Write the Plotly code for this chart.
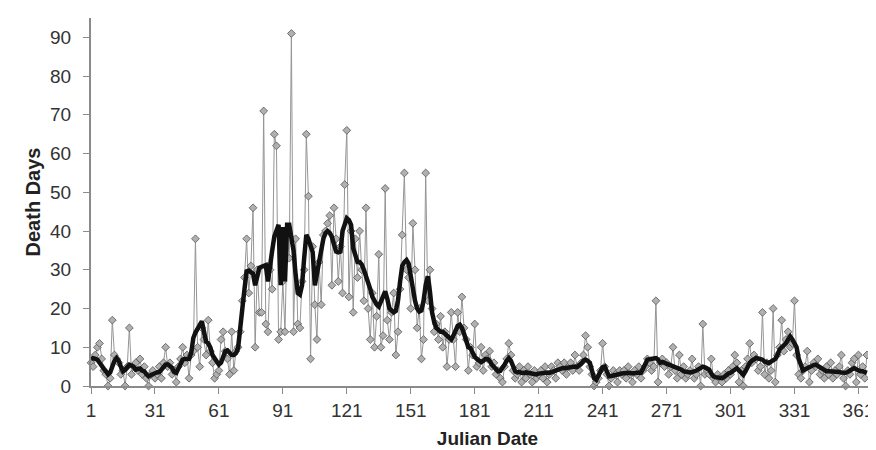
import plotly.graph_objects as go

# Daily death-day counts (Julian day 1..365)
daily = [
    6, 5, 8, 10, 11, 7, 4, 3, 0, 2,
    17, 8, 7, 6, 3, 4, 0, 5, 15, 3,
    5, 6, 4, 7, 3, 5, 2, 0, 3, 4,
    2, 3, 5, 2, 6, 10, 5, 6, 3, 4,
    1, 5, 7, 10, 6, 8, 2, 8, 9, 38,
    10, 5, 15, 12, 8, 17, 9, 6, 2, 3,
    4, 12, 14, 9, 7, 3, 14, 4, 9, 10,
    14, 22, 28, 38, 24, 31, 46, 10, 30, 19,
    19, 71, 16, 14, 30, 25, 65, 62, 12, 14,
    27, 14, 40, 33, 91, 14, 38, 16, 15, 27,
    30, 65, 49, 7, 36, 21, 12, 32, 21, 39,
    40, 42, 44, 26, 46, 38, 27, 36, 24, 52,
    66, 23, 40, 19, 38, 28, 40, 30, 22, 46,
    20, 12, 24, 10, 18, 34, 10, 13, 51, 17,
    12, 19, 24, 8, 14, 25, 39, 55, 30, 28,
    20, 42, 30, 15, 20, 7, 12, 55, 22, 30,
    20, 14, 16, 12, 18, 10, 14, 5, 12, 19,
    12, 5, 19, 14, 23, 15, 12, 4, 10, 8,
    16, 5, 6, 10, 4, 8, 7, 9, 5, 6,
    3, 4, 2, 1, 5, 7, 11, 8, 4, 2,
    3, 5, 1, 4, 2, 5, 3, 1, 4, 2,
    3, 4, 2, 5, 1, 3, 5, 4, 2, 6,
    5, 4, 6, 3, 5, 6, 4, 8, 5, 4,
    6, 8, 13, 10, 5, 3, 0, 1, 2, 4,
    11, 5, 3, 0, 2, 4, 3, 1, 4, 3,
    4, 2, 5, 3, 1, 4, 3, 5, 2, 4,
    5, 7, 6, 4, 5, 22, 1, 6, 7, 5,
    6, 3, 5, 10, 4, 2, 8, 3, 5, 2,
    3, 4, 7, 2, 3, 5, 0, 16, 3, 4,
    3, 7, 2, 1, 3, 2, 1, 3, 2, 4,
    3, 5, 8, 6, 1, 4, 0, 5, 7, 11,
    6, 8, 7, 4, 5, 19, 3, 6, 2, 4,
    20, 1, 8, 10, 17, 9, 12, 14, 10, 11,
    22, 8, 3, 2, 4, 5, 9, 1, 4, 6,
    5, 7, 3, 4, 2, 5, 3, 6, 2, 4,
    3, 5, 8, 2, 0, 4, 3, 6, 7, 1,
    8, 3, 5, 2, 8,
]

# Smoothed (moving-average) line
smooth = [
    7.0, 7.2, 7.0, 6.8, 6.0, 5.0, 4.5, 3.8, 3.0, 3.5,
    5.5, 6.5, 7.2, 6.5, 5.0, 3.8, 4.2, 5.0, 5.5, 5.3,
    5.0, 4.2, 4.5, 4.5, 4.0, 3.8, 3.0, 2.5, 2.8, 3.2,
    3.3, 3.5, 3.6, 4.2, 5.0, 5.5, 5.6, 5.2, 4.7, 3.6,
    3.4, 4.5, 5.8, 6.8, 7.0, 7.0, 7.0, 8.5, 12.4, 13.8,
    15.0, 16.0, 16.7, 14.0, 11.5, 11.0, 9.9, 8.0, 7.0, 6.4,
    5.5, 6.0, 7.5, 9.0, 9.2, 8.5, 8.0, 8.0, 8.5, 9.8,
    14.0, 20.0, 25.0, 29.6, 29.8, 29.5, 29.0, 26.0, 28.5, 30.5,
    30.8, 31.0, 31.2, 27.0, 32.0, 35.0, 38.6, 40.0, 41.6, 26.0,
    41.0, 27.0, 41.6, 41.6, 38.0, 35.0, 28.7, 24.0, 23.6, 26.0,
    33.0, 39.0, 38.0, 36.5, 34.5, 26.0, 29.0, 33.0, 36.5, 38.0,
    39.5, 40.0, 39.5, 38.5, 36.5, 34.7, 34.5, 34.7, 40.0, 42.0,
    43.3, 42.8, 41.6, 35.6, 33.5, 32.0, 32.0, 31.4, 30.0, 28.5,
    27.0, 25.0, 23.0, 21.8, 21.0, 20.5, 22.0, 23.0, 24.4, 22.5,
    20.0, 19.5, 19.0, 19.4, 22.0, 27.0, 31.0, 32.0, 32.5, 31.6,
    28.0, 24.4, 22.0, 20.0, 19.2, 19.5, 22.0, 26.0, 28.3, 24.4,
    19.0, 16.5, 15.0, 14.5, 14.0, 14.0, 13.5, 13.0, 12.5, 12.0,
    13.0, 14.5, 15.5, 15.8, 15.0, 13.5, 11.5, 10.0, 9.8, 8.5,
    7.5, 7.0, 6.4, 6.2, 6.5, 7.0, 7.0, 6.5, 5.5, 4.8,
    4.2, 3.8, 3.9, 4.5, 5.5, 6.5, 7.2, 6.5, 5.0, 3.8,
    3.5, 3.6, 3.4, 3.3, 3.5, 3.4, 3.2, 3.0, 3.0, 3.0,
    3.2, 3.3, 3.4, 3.5, 3.5, 3.4, 3.5, 3.8, 4.0, 4.3,
    4.5, 4.6, 4.6, 4.7, 4.8, 4.9, 5.0, 5.0, 4.9, 5.2,
    5.8, 6.5, 6.8, 6.5, 6.0, 4.0, 2.0, 1.6, 2.8, 4.2,
    4.8, 5.0, 3.5, 2.5, 2.6, 2.8, 2.8, 3.0, 3.1, 3.2,
    3.3, 3.4, 3.4, 3.3, 3.2, 3.3, 3.4, 3.4, 3.4, 4.5,
    6.0, 6.8, 6.9, 7.0, 7.1, 7.2, 6.8, 6.0, 6.2, 6.0,
    5.8, 5.6, 5.3, 5.0, 4.8, 4.6, 4.4, 4.2, 3.8, 3.6,
    3.4, 3.5, 3.6, 3.7, 4.0, 4.3, 4.7, 5.0, 4.8, 4.5,
    4.2, 3.2, 2.5, 2.3, 2.2, 2.2, 2.0, 2.3, 2.8, 3.2,
    3.4, 3.8, 4.3, 4.6, 4.0, 3.3, 2.9, 3.8, 5.0, 5.9,
    6.5, 7.0, 7.2, 7.1, 7.0, 6.8, 6.3, 6.0, 5.9, 6.3,
    6.8, 7.0, 8.0, 9.4, 10.0, 10.5, 11.0, 12.0, 12.8, 12.0,
    11.0, 10.0, 7.0, 5.0, 4.0, 4.3, 4.6, 5.0, 5.2, 5.4,
    5.5, 5.2, 4.8, 4.3, 4.0, 3.8, 3.8, 3.8, 3.8, 3.8,
    3.7, 3.6, 3.5, 3.4, 3.4, 3.6, 4.0, 4.4, 4.6, 4.3,
    4.0, 3.8, 3.8, 3.6, 3.4,
]

days = list(range(1, len(daily) + 1))
tick_vals = [1, 31, 61, 91, 121, 151, 181, 211, 241, 271, 301, 331, 361]
tick_text = [str(v) for v in tick_vals]
y_ticks = [0, 10, 20, 30, 40, 50, 60, 70, 80, 90]

fig = go.Figure()
fig.add_trace(go.Scatter(
    x=days, y=daily, mode="lines+markers",
    line=dict(color="#959595", width=1),
    marker=dict(symbol="diamond", size=6, color="#b0b0b0",
                line=dict(color="#555555", width=0.8)),
    cliponaxis=False, showlegend=False,
))
fig.add_trace(go.Scatter(
    x=days, y=smooth, mode="lines",
    line=dict(color="#111111", width=4.5),
    cliponaxis=False, showlegend=False,
))

font = "Liberation Sans, Arial, sans-serif"
fig.update_layout(
    width=876, height=450,
    margin=dict(l=83, r=0, t=10, b=72),
    paper_bgcolor="white", plot_bgcolor="white",
    font=dict(family=font, color="#333333"),
    xaxis=dict(
        range=[1, 373], tickmode="array", tickvals=tick_vals, ticktext=tick_text,
        showgrid=False, zeroline=False, showline=True, linecolor="#8a8a8a", linewidth=2,
        ticks="outside", ticklen=6, tickcolor="#8a8a8a",
        tickfont=dict(size=19, color="#333333"),
        title=dict(text="<b>Julian Date</b>", font=dict(size=19, color="#222222"), standoff=12),
    ),
    yaxis=dict(
        range=[0, 95], tickmode="array", tickvals=y_ticks,
        showgrid=False, zeroline=False, showline=True, linecolor="#8a8a8a", linewidth=2,
        ticks="outside", ticklen=6, tickcolor="#8a8a8a", ticklabelstandoff=8,
        tickfont=dict(size=19, color="#333333"),
        title=dict(text="<b>Death Days</b>", font=dict(size=20, color="#222222"), standoff=4),
    ),
)

fig.write_html("out.html")
